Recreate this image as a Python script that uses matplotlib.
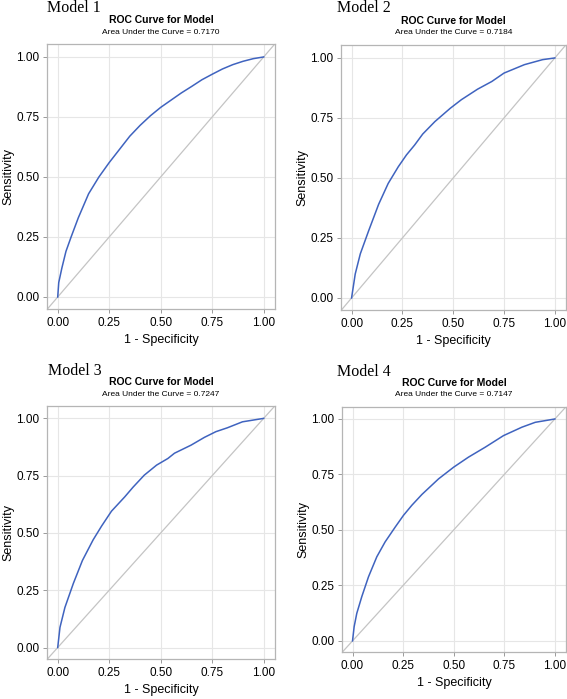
import matplotlib
matplotlib.use("Agg")
import matplotlib.pyplot as plt

W, H = 567, 699

# ROC points (1 - specificity, sensitivity)
fpr_m1 = [0, 0.005, 0.02, 0.04, 0.065, 0.1, 0.15, 0.2, 0.25, 0.3, 0.35, 0.4, 0.45, 0.5, 0.55, 0.6, 0.65, 0.7, 0.75, 0.8, 0.85, 0.9, 0.95, 1.0]
tpr_m1 = [0, 0.06, 0.12, 0.19, 0.25, 0.33, 0.43, 0.50, 0.56, 0.615, 0.67, 0.715, 0.755, 0.79, 0.82, 0.85, 0.877, 0.905, 0.928, 0.95, 0.968, 0.982, 0.993, 1.0]

fpr_m2 = [0, 0.018, 0.043, 0.084, 0.133, 0.18, 0.23, 0.27, 0.31, 0.35, 0.41, 0.485, 0.54, 0.62, 0.69, 0.75, 0.85, 0.94, 1.0]
tpr_m2 = [0, 0.10, 0.184, 0.28, 0.39, 0.477, 0.547, 0.596, 0.637, 0.683, 0.735, 0.79, 0.826, 0.87, 0.902, 0.937, 0.972, 0.993, 1.0]

fpr_m3 = [0, 0.011, 0.035, 0.076, 0.12, 0.172, 0.213, 0.261, 0.325, 0.366, 0.42, 0.48, 0.535, 0.567, 0.647, 0.712, 0.768, 0.824, 0.897, 1.0]
tpr_m3 = [0, 0.088, 0.175, 0.28, 0.38, 0.47, 0.53, 0.595, 0.657, 0.70, 0.752, 0.796, 0.825, 0.848, 0.883, 0.917, 0.942, 0.959, 0.985, 1.0]

fpr_m4 = [0, 0.008, 0.021, 0.046, 0.079, 0.12, 0.161, 0.211, 0.252, 0.293, 0.343, 0.425, 0.5, 0.573, 0.656, 0.746, 0.837, 0.903, 1.0]
tpr_m4 = [0, 0.064, 0.124, 0.2, 0.289, 0.379, 0.446, 0.513, 0.566, 0.611, 0.66, 0.73, 0.783, 0.828, 0.873, 0.925, 0.963, 0.985, 1.0]

model_names = ["Model 1", "Model 2", "Model 3", "Model 4"]
auc_values = ["0.7170", "0.7184", "0.7247", "0.7147"]
tick_vals = [0, 0.25, 0.5, 0.75, 1.0]
tick_labels = ["0.00", "0.25", "0.50", "0.75", "1.00"]

curves = [(fpr_m1, tpr_m1), (fpr_m2, tpr_m2), (fpr_m3, tpr_m3), (fpr_m4, tpr_m4)]

# axes boxes in pixels: left, top, right, bottom
boxes = [(47, 44, 275, 309), (341, 45, 566, 310), (47, 406, 275, 659), (342, 407, 566, 652)]
# model label positions (left x, center y)
label_pos = [(47, 8), (337, 8), (48, 371), (337, 372)]

SANS = ["Liberation Sans", "DejaVu Sans"]
SERIF = ["Liberation Serif", "DejaVu Serif"]

def fx(x):
    return x / W

def fy(y):
    return 1 - y / H

fig = plt.figure(figsize=(W / 100, H / 100), dpi=100)

for i, (l, t, r, b) in enumerate(boxes):
    ax = fig.add_axes([fx(l), fy(b), fx(r - l), (b - t) / H])
    fpr, tpr = curves[i]
    ax.axline((0, 0), slope=1, color="#c4c4c4", lw=0.9, zorder=2)
    ax.plot(fpr, tpr, color="#3f63bf", lw=1.1, zorder=3)
    ax.set_xlim(-0.052, 1.055)
    ax.set_ylim(-0.05, 1.054)
    ax.set_xticks(tick_vals)
    ax.set_yticks(tick_vals)
    ax.set_xticklabels(tick_labels, family=SANS, fontsize=8.5)
    ax.set_yticklabels(tick_labels, family=SANS, fontsize=8.5)
    ax.grid(True, color="#e6e6e6", lw=0.8)
    ax.set_axisbelow(True)
    ax.tick_params(length=3, width=0.7, color="#9a9a9a", pad=2.5)
    for s in ax.spines.values():
        s.set_color("#b5b5b5")
        s.set_linewidth(0.9)

    cx = (l + r) / 2
    fig.text(fx(cx), fy(t - 24), "ROC Curve for Model", ha="center", va="center",
             family=SANS, fontweight="bold", fontsize=7.5)
    fig.text(fx(cx), fy(t - 12), "Area Under the Curve = " + auc_values[i],
             ha="center", va="center", family=SANS, fontsize=6)
    fig.text(fx(l - 39), fy((t + b) / 2), "Sensitivity", rotation=90,
             ha="center", va="center", family=SANS, fontsize=9)
    fig.text(fx(cx), fy(b + 31), "1 - Specificity", ha="center", va="center",
             family=SANS, fontsize=9)
    lx, ly = label_pos[i]
    fig.text(fx(lx), fy(ly), model_names[i], ha="left", va="center",
             family=SERIF, fontsize=11.5)

fig.savefig("out.png", dpi=100)
